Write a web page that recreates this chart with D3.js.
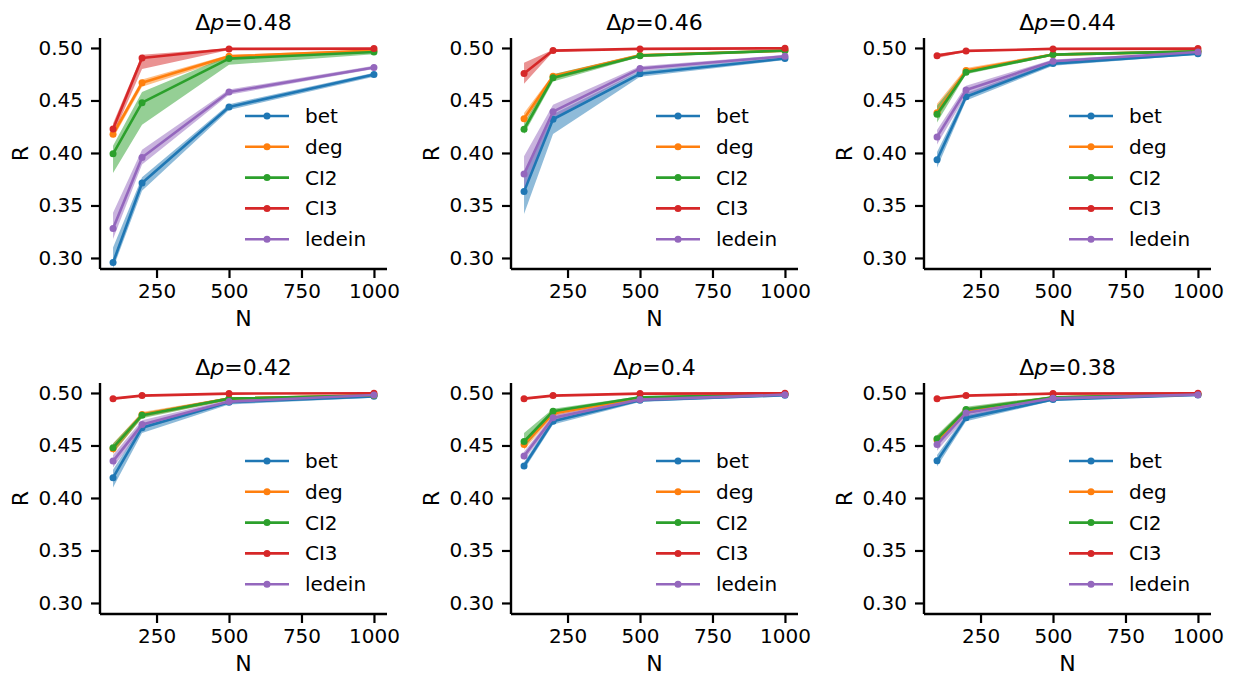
<!DOCTYPE html>
<html>
<head>
<meta charset="utf-8">
<script src="https://cdn.jsdelivr.net/npm/d3@7"></script>
<style>
  body { margin: 0; background: #fff; }
  svg text { font-family: "DejaVu Sans", sans-serif; fill: #000; }
</style>
</head>
<body>
<div id="chart"></div>
<script>
var width = 1240;
var height = 676;

// data
var nValues = [100, 200, 500, 1000];
var methods = ['bet', 'deg', 'CI2', 'CI3', 'ledein'];
var deltaP = ['0.48', '0.46', '0.44', '0.42', '0.4', '0.38'];
var xTicks = [250, 500, 750, 1000];
var yTicks = [0.30, 0.35, 0.40, 0.45, 0.50];

// rows: bet, deg, CI2, CI3, ledein
var mean048 = [[0.2956, 0.3714, 0.4438, 0.4747], [0.4178, 0.4668, 0.4921, 0.4975], [0.3992, 0.4479, 0.4899, 0.4962], [0.4229, 0.4905, 0.4991, 0.4994], [0.3281, 0.3957, 0.4580, 0.4814]];
var lo048 = [[0.290, 0.364, 0.441, 0.4725], [0.414, 0.463, 0.490, 0.4965], [0.381, 0.427, 0.484, 0.494], [0.417, 0.480, 0.498, 0.4988], [0.318, 0.389, 0.4555, 0.480]];
var hi048 = [[0.310, 0.377, 0.4465, 0.4765], [0.421, 0.470, 0.4935, 0.4985], [0.407, 0.458, 0.4925, 0.498], [0.428, 0.4935, 0.4997, 0.4998], [0.343, 0.403, 0.4605, 0.483]];

var mean046 = [[0.3632, 0.4321, 0.4754, 0.4899], [0.4327, 0.4731, 0.4930, 0.4975], [0.4226, 0.4716, 0.4927, 0.4975], [0.4757, 0.4975, 0.4991, 0.4997], [0.3799, 0.4393, 0.4804, 0.4921]];
var lo046 = [[0.342, 0.418, 0.4725, 0.4885], [0.428, 0.470, 0.4915, 0.4965], [0.418, 0.468, 0.4915, 0.4965], [0.466, 0.4965, 0.4985, 0.499], [0.362, 0.433, 0.478, 0.491]];
var hi046 = [[0.378, 0.437, 0.478, 0.4915], [0.438, 0.475, 0.4945, 0.498], [0.428, 0.475, 0.494, 0.498], [0.486, 0.4982, 0.4995, 0.4999], [0.397, 0.446, 0.4825, 0.4935]];

var mean044 = [[0.3935, 0.4536, 0.4851, 0.4946], [0.4384, 0.4785, 0.4937, 0.4968], [0.4368, 0.4769, 0.4937, 0.4968], [0.4927, 0.4972, 0.4991, 0.4994], [0.4153, 0.4599, 0.4874, 0.4962]];
var lo044 = [[0.386, 0.450, 0.483, 0.4935], [0.433, 0.476, 0.4925, 0.496], [0.429, 0.475, 0.4925, 0.496], [0.4905, 0.4965, 0.4985, 0.499], [0.408, 0.455, 0.485, 0.495]];
var hi044 = [[0.401, 0.457, 0.487, 0.4955], [0.447, 0.481, 0.495, 0.4975], [0.445, 0.479, 0.495, 0.4975], [0.4945, 0.4978, 0.4995, 0.4998], [0.422, 0.464, 0.489, 0.497]];

var mean042 = [[0.4193, 0.4668, 0.4911, 0.4968], [0.4468, 0.4794, 0.4946, 0.4978], [0.4478, 0.4788, 0.4946, 0.4978], [0.4946, 0.4975, 0.4994, 0.4997], [0.4351, 0.4699, 0.4918, 0.4981]];
var lo042 = [[0.410, 0.462, 0.489, 0.4955], [0.442, 0.477, 0.493, 0.497], [0.443, 0.476, 0.493, 0.497], [0.4935, 0.4968, 0.499, 0.4993], [0.429, 0.466, 0.490, 0.497]];
var hi042 = [[0.427, 0.470, 0.4925, 0.498], [0.452, 0.482, 0.496, 0.4985], [0.452, 0.481, 0.496, 0.4985], [0.4955, 0.498, 0.4998, 0.5], [0.441, 0.474, 0.4935, 0.499]];

var mean040 = [[0.4304, 0.4731, 0.4930, 0.4978], [0.4509, 0.4804, 0.4953, 0.4987], [0.4538, 0.4826, 0.4959, 0.4987], [0.4946, 0.4975, 0.4994, 0.4997], [0.4399, 0.4763, 0.4937, 0.4984]];
var lo040 = [[0.427, 0.470, 0.4915, 0.497], [0.446, 0.478, 0.494, 0.498], [0.448, 0.480, 0.4945, 0.498], [0.4935, 0.497, 0.499, 0.4993], [0.436, 0.473, 0.492, 0.4975]];
var hi040 = [[0.434, 0.476, 0.4945, 0.4985], [0.455, 0.483, 0.4965, 0.4993], [0.462, 0.485, 0.497, 0.4993], [0.4955, 0.498, 0.4998, 0.5], [0.444, 0.479, 0.495, 0.499]];

var mean038 = [[0.4354, 0.4763, 0.4937, 0.4981], [0.4551, 0.4835, 0.4956, 0.4987], [0.4563, 0.4842, 0.4959, 0.4987], [0.4946, 0.4975, 0.4994, 0.4997], [0.4509, 0.4810, 0.4949, 0.4984]];
var lo038 = [[0.430, 0.473, 0.4925, 0.4975], [0.451, 0.481, 0.4945, 0.498], [0.452, 0.482, 0.495, 0.498], [0.4935, 0.497, 0.499, 0.4993], [0.445, 0.477, 0.4935, 0.4975]];
var hi038 = [[0.441, 0.479, 0.495, 0.4988], [0.459, 0.486, 0.497, 0.4993], [0.460, 0.487, 0.497, 0.4993], [0.4955, 0.498, 0.4998, 0.5], [0.456, 0.485, 0.496, 0.499]];

var panelMeans = [mean048, mean046, mean044, mean042, mean040, mean038];
var panelLo = [lo048, lo046, lo044, lo042, lo040, lo038];
var panelHi = [hi048, hi046, hi044, hi042, hi040, hi038];

var colors = ['#1f77b4', '#ff7f0e', '#2ca02c', '#d62728', '#9467bd'];

// layout
var colLeft = [100, 511, 924];
var rowTop = [38, 383];
var pw = 287;
var ph = 231;

var svg = d3.select('#chart')
  .append('svg')
  .attr('width', width)
  .attr('height', height)
  .style('background-color', '#fff');

var x = d3.scaleLinear().domain([55, 1045]).range([0, pw]);
var y = d3.scaleLinear().domain([0.2895, 0.5095]).range([ph, 0]);

deltaP.forEach(function(dp, k) {
  var g = svg.append('g')
    .attr('transform', 'translate(' + colLeft[k % 3] + ',' + rowTop[Math.floor(k / 3)] + ')');

  var means = panelMeans[k], lo = panelLo[k], hi = panelHi[k];

  // bands first (below all lines)
  methods.forEach(function(m, i) {
    var pts = nValues.map(function(n, j) { return { n: n, lo: lo[i][j], hi: hi[i][j] }; });
    g.append('path')
      .datum(pts)
      .attr('fill', colors[i])
      .attr('fill-opacity', 0.5)
      .attr('stroke', 'none')
      .attr('d', d3.area()
        .x(function(d) { return x(d.n); })
        .y0(function(d) { return y(d.lo); })
        .y1(function(d) { return y(d.hi); }));
  });

  methods.forEach(function(m, i) {
    var pts = nValues.map(function(n, j) { return { n: n, v: means[i][j] }; });
    g.append('path')
      .datum(pts)
      .attr('fill', 'none')
      .attr('stroke', colors[i])
      .attr('stroke-width', 2.6)
      .attr('stroke-linejoin', 'round')
      .attr('d', d3.line()
        .x(function(d) { return x(d.n); })
        .y(function(d) { return y(d.v); }));
    g.selectAll('.dot' + i)
      .data(pts)
      .enter()
      .append('circle')
      .attr('cx', function(d) { return x(d.n); })
      .attr('cy', function(d) { return y(d.v); })
      .attr('r', 3.5)
      .attr('fill', colors[i]);
  });

  // axes
  var xAxis = g.append('g')
    .attr('transform', 'translate(0,' + ph + ')')
    .call(d3.axisBottom(x).tickValues(xTicks).tickSize(9).tickPadding(6).tickFormat(d3.format('d')));
  var yAxis = g.append('g')
    .call(d3.axisLeft(y).tickValues(yTicks).tickSize(9).tickPadding(8).tickFormat(d3.format('.2f')));

  [xAxis, yAxis].forEach(function(a) {
    a.select('.domain').attr('stroke', '#000').attr('stroke-width', 2.4);
    a.selectAll('.tick line').attr('stroke', '#000').attr('stroke-width', 2.2);
    a.selectAll('.tick text').style('font-size', '20px').style('font-family', 'DejaVu Sans, sans-serif').attr('fill', '#000');
  });
  // matplotlib spines have no end caps
  xAxis.select('.domain').attr('d', 'M0,0H' + pw);
  yAxis.select('.domain').attr('d', 'M0,' + ph + 'V0');

  // axis labels
  g.append('text')
    .attr('x', pw / 2)
    .attr('y', ph + 56.5)
    .attr('text-anchor', 'middle')
    .style('font-size', '22px')
    .text('N');
  g.append('text')
    .attr('transform', 'translate(' + (-72) + ',' + (ph / 2) + ') rotate(-90)')
    .attr('text-anchor', 'middle')
    .style('font-size', '22px')
    .text('R');

  // title
  var t = g.append('text')
    .attr('x', pw / 2)
    .attr('y', -8)
    .attr('text-anchor', 'middle')
    .style('font-size', '22px');
  t.append('tspan').text('\u0394');
  t.append('tspan').style('font-style', 'italic').text('p');
  t.append('tspan').text('=' + dp);

  // legend
  var leg = g.append('g').attr('transform', 'translate(145,78)');
  methods.forEach(function(m, i) {
    var row = leg.append('g').attr('transform', 'translate(0,' + (i * 30.8) + ')');
    row.append('line')
      .attr('x1', 0).attr('x2', 44)
      .attr('stroke', colors[i])
      .attr('stroke-width', 2.6);
    row.append('circle')
      .attr('cx', 22).attr('r', 3.5)
      .attr('fill', colors[i]);
    row.append('text')
      .attr('x', 60)
      .attr('dy', '0.35em')
      .style('font-size', '20px')
      .text(m);
  });
});
</script>
</body>
</html>
